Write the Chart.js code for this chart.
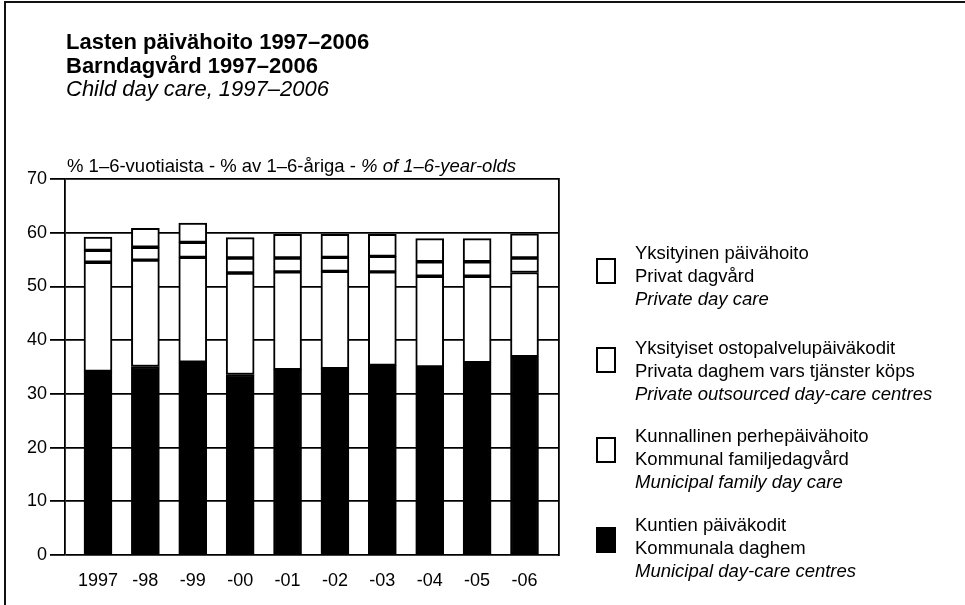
<!DOCTYPE html>
<html>
<head>
<meta charset="utf-8">
<script src="https://cdn.jsdelivr.net/npm/chart.js@4/dist/chart.umd.min.js"></script>
<style>
  html, body { margin: 0; padding: 0; background: #fff; }
  #wrap { position: relative; width: 965px; height: 605px; overflow: hidden; background: #fff;
          font-family: "Liberation Sans", Arial, Helvetica, sans-serif; color: #000; }
  #frame { position: absolute; left: 4px; top: 1px; width: 1000px; height: 700px;
           border-top: 2px solid #111; border-left: 2px solid #111; }
  canvas { position: absolute; left: 0; top: 0; }
  .title { position: absolute; left: 66px; top: 30px; font-size: 22px; line-height: 23.7px; white-space: nowrap; }
  .title .b { font-weight: bold; }
  .title .i { font-style: italic; }
  .unit { position: absolute; left: 67px; top: 155px; font-size: 18.5px; line-height: 22px; white-space: nowrap; }
  .leg { position: absolute; left: 635px; font-size: 18.5px; line-height: 23px; white-space: nowrap; }
  .leg .i { font-style: italic; }
  .box { position: absolute; left: 596px; width: 16px; height: 22px; border: 2px solid #000; background: #fff; }
  .box.fill { background: #000; }
</style>
</head>
<body>
<div id="wrap">
  <div id="frame"></div>
  <canvas id="c" width="965" height="605"></canvas>
  <div class="title">
    <div class="b">Lasten päivähoito 1997–2006</div>
    <div class="b">Barndagvård 1997–2006</div>
    <div class="i">Child day care, 1997–2006</div>
  </div>
  <div class="unit">% 1–6-vuotiaista - % av 1–6-åriga - <i>% of 1–6-year-olds</i></div>
  <div id="legend"></div>
</div>
<script>
// ---- data ----
const categories = ['1997', '-98', '-99', '-00', '-01', '-02', '-03', '-04', '-05', '-06'];
const municipalCentres  = [34.2, 35.1, 35.9, 33.6, 34.5, 34.7, 35.3, 35.0, 35.8, 36.9];
const municipalFamily   = [20.3, 19.8, 19.5, 18.9, 18.2, 18.1, 17.4, 16.9, 16.1, 15.7];
const privateOutsourced = [2.2, 2.4, 2.8, 2.8, 2.6, 2.6, 2.9, 2.7, 2.7, 2.7];
const privateCare       = [2.5, 3.5, 3.6, 3.8, 4.4, 4.3, 4.1, 4.3, 4.3, 4.5];
const yTickValues = [0, 10, 20, 30, 40, 50, 60, 70];

// legend texts (top to bottom)
const legendFi = ['Yksityinen päivähoito', 'Yksityiset ostopalvelupäiväkodit', 'Kunnallinen perhepäivähoito', 'Kuntien päiväkodit'];
const legendSv = ['Privat dagvård', 'Privata daghem vars tjänster köps', 'Kommunal familjedagvård', 'Kommunala daghem'];
const legendEn = ['Private day care', 'Private outsourced day-care centres', 'Municipal family day care', 'Municipal day-care centres'];
const legendFilled = [false, false, false, true];

// ---- layout (styles only) ----
const legendTextTops = [241, 336, 424, 513];
const legendBoxTops = [258, 347, 437, 527];

const legendEl = document.getElementById('legend');
legendFi.forEach((fi, k) => {
  const t = document.createElement('div');
  t.className = 'leg';
  t.style.top = legendTextTops[k] + 'px';
  t.innerHTML = '<div>' + fi + '</div><div>' + legendSv[k] + '</div><div class="i">' + legendEn[k] + '</div>';
  legendEl.appendChild(t);
  const b = document.createElement('div');
  b.className = 'box' + (legendFilled[k] ? ' fill' : '');
  b.style.top = legendBoxTops[k] + 'px';
  legendEl.appendChild(b);
});

const toPoints = arr => arr.map((v, i) => ({ x: i, y: v }));
const barStyle = {
  borderColor: '#000',
  borderWidth: 2,
  borderSkipped: false,
  barThickness: 28
};

const FONT = '"Liberation Sans", Arial, Helvetica, sans-serif';

new Chart(document.getElementById('c'), {
  type: 'bar',
  data: {
    datasets: [
      Object.assign({ label: legendEn[3], data: toPoints(municipalCentres), backgroundColor: '#000' }, barStyle),
      Object.assign({ label: legendEn[2], data: toPoints(municipalFamily), backgroundColor: '#fff' }, barStyle),
      Object.assign({ label: legendEn[1], data: toPoints(privateOutsourced), backgroundColor: '#fff' }, barStyle),
      Object.assign({ label: legendEn[0], data: toPoints(privateCare), backgroundColor: '#fff' }, barStyle)
    ]
  },
  options: {
    responsive: false,
    devicePixelRatio: 1,
    animation: false,
    layout: { padding: { left: 0, top: 179, right: 406, bottom: 0 } },
    plugins: { legend: { display: false }, title: { display: false }, tooltip: { enabled: false } },
    scales: {
      x: {
        type: 'linear',
        stacked: true,
        offset: false,
        bounds: 'ticks',
        min: -0.696,
        max: 9.728,
        grid: { display: false },
        border: { display: false },
        afterBuildTicks: axis => { axis.ticks = categories.map((c, i) => ({ value: i })); },
        afterFit: axis => { axis.height = 50; },
        ticks: {
          autoSkip: false,
          maxRotation: 0,
          padding: 7,
          color: '#000',
          font: { family: FONT, size: 18 },
          callback: v => categories[v]
        }
      },
      y: {
        stacked: true,
        min: 0,
        max: 70,
        z: 1,
        afterBuildTicks: axis => { axis.ticks = yTickValues.map(v => ({ value: v })); },
        afterFit: axis => { axis.width = 65; },
        grid: { color: '#000', lineWidth: 1.8, tickLength: 15, drawTicks: true },
        border: { display: true, color: '#000', width: 1.8 },
        ticks: { padding: 3, color: '#000', font: { family: FONT, size: 18 } }
      },
      y2: {
        position: 'right',
        min: 0,
        max: 70,
        grid: { display: false },
        ticks: { display: false },
        border: { display: true, color: '#000', width: 1.8 },
        afterFit: axis => { axis.width = 0; }
      }
    }
  }
});
</script>
</body>
</html>
